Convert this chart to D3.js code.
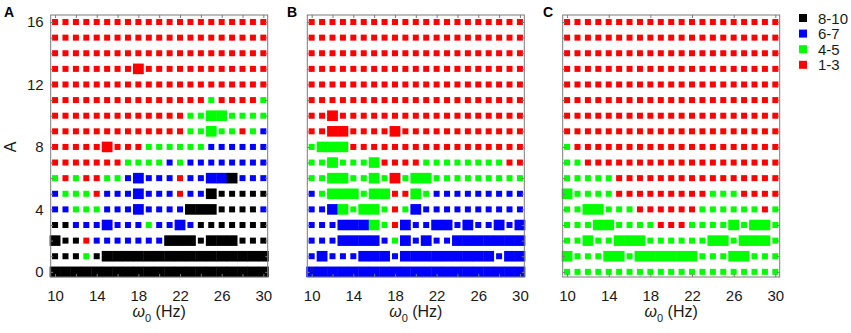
<!DOCTYPE html>
<html><head><meta charset="utf-8">
<script src="https://cdn.jsdelivr.net/npm/d3@7"></script>
<style>
body{margin:0;background:#fff}
svg{display:block}
text{font-family:"Liberation Sans",Arial,Helvetica,sans-serif}
</style>
</head><body><svg id="c" width="851" height="333"></svg>
<script>
// ---- data ----
const xValues = d3.range(10, 31);           // ω0 (Hz)
const yValues = d3.range(0, 17);            // A
const categories = ["8-10", "6-7", "4-5", "1-3"];
const categoryCode = {k: "8-10", b: "6-7", g: "4-5", r: "1-3"};
// One string per A value (0..16), one character per ω0 value (10..30).
// lowercase = ordinary cell, UPPERCASE = emphasised (large) cell.
const panelA = [
  "KKKKKKKKKKKKKKKKKKKKK",
  "kkkgkKKKKKKKKKKKKKKKK",
  "KkkrbbbbbbbKKKkKKKkkk",
  "kkbbbBbbbgbbBbkkkkkkk",
  "bbgggbbbBbbbbKKKkkkkb",
  "bgggrbbbBbbbrbbKkkkkk",
  "grgrrggbBbbbrbbBBKbbb",
  "rrrrrrrggggbgbbbbbbbb",
  "rrrrrRrrrggggggbbbbbb",
  "rrrrrrrrrrrrrggGggrgb",
  "rrrrrrrrrrrrrggGGgggg",
  "rrrrrrrrrrrrrrrgrrrrg",
  "rrrrrrrrrrrrrrrrrrrrr",
  "rrrrrrrrRrrrrrrrrrrrr",
  "rrrrrrrrrrrrrrrrrrrrr",
  "rrrrrrrrrrrrrrrrrrrrr",
  "rrrrrrrrrrrrrrrrrrrrr"
];
const panelB = [
  "BBBBBBBBBBBBBBBBBBBBB",
  "bBbbbBBBbBBBBBBBBBbBB",
  "bbbBBBBbgBbBbbBBBBBBB",
  "bbbBBBGgrBbbBBbBbbBbB",
  "bbBGgGGgrgBbbbbbbbbbb",
  "bgGGGgGGrrGgbbbbbbbbb",
  "ggGGggGgRgGGggggggggg",
  "ggGgggGrrrrggggggggrr",
  "gGGGrrrrrrrrrrrrrrrrr",
  "rrRRrrrrRrrrrrrrrrrrr",
  "rrRrrrrrrrrrrrrrrrrrr",
  "rrrrrrrrrrrrrrrrrrrrr",
  "rrrrrrrrrrrrrrrrrrrrr",
  "rrrrrrrrrrrrrrrrrrrrr",
  "rrrrrrrrrrrrrrrrrrrrr",
  "rrrrrrrrrrrrrrrrrrrrr",
  "rrrrrrrrrrrrrrrrrrrrr"
];
const panelC = [
  "ggggggggggggggggggggg",
  "GgggGGgGGGGGGgggGGggg",
  "ggGggGGGggggggGGgGGGg",
  "gggGGggggrrrggggGgGGg",
  "ggGGgggrrrrrrggggggrg",
  "Gggggrrrrrrrrrgggrrrr",
  "gggggrrrrrrrrrrrrrrrr",
  "ggrrrrrrrrrrrrrrrrrrr",
  "grrrrrrrrrrrrrrrrrrrr",
  "rrrrrrrrrrrrrrrrrrrrr",
  "rrrrrrrrrrrrrrrrrrrrr",
  "rrrrrrrrrrrrrrrrrrrrr",
  "rrrrrrrrrrrrrrrrrrrrr",
  "rrrrrrrrrrrrrrrrrrrrr",
  "rrrrrrrrrrrrrrrrrrrrr",
  "rrrrrrrrrrrrrrrrrrrrr",
  "rrrrrrrrrrrrrrrrrrrrr"
];
const panelLabels = ["A", "B", "C"];
const yTickLabels = [0, 4, 8, 12, 16];
const xTickLabels = [10, 14, 18, 22, 26, 30];

// ---- styles ----
const color = d3.scaleOrdinal().domain(categories).range(["#000000", "#0000ff", "#00ff00", "#ff0000"]);
const svg = d3.select("#c");
const W = 217, TOP = 15, BOTTOM = 277;
const lefts = [50.7, 307.3, 562.7];
const labelX = [4, 287, 543];
const panels = [panelA, panelB, panelC];

panels.forEach((rows, pi) => {
  const left = lefts[pi];
  const x = d3.scaleLinear().domain([9.58, 30.42]).range([left, left + W]);
  const y = d3.scaleLinear().domain([-0.33, 16.45]).range([BOTTOM, TOP]);
  const step = x(11) - x(10);
  const bigH = 10.6, small = 6;
  const cells = [];
  rows.forEach((row, yi) => row.split("").forEach((c, xi) => {
    cells.push({x: xValues[xi], y: yValues[yi], cat: categoryCode[c.toLowerCase()], big: c !== c.toLowerCase()});
  }));
  const g = svg.append("g");
  g.selectAll("rect.cell").data(cells).join("rect")
    .attr("class", "cell")
    .attr("x", d => d.big ? x(d.x) - step / 2 - 0.2 : x(d.x) - small / 2)
    .attr("y", d => d.big ? y(d.y) - bigH / 2 : y(d.y) - small / 2)
    .attr("width", d => d.big ? step + 0.4 : small)
    .attr("height", d => d.big ? bigH : small)
    .attr("fill", d => color(d.cat));

  // axes (ticks point inward)
  const xt = pi === 2 ? d3.range(10, 31, 4) : d3.range(10, 31, 2);
  const bx = g.append("g").attr("transform", `translate(0,${BOTTOM})`)
    .call(d3.axisBottom(x).tickValues(xt).tickSizeInner(-3).tickSizeOuter(0).tickPadding(13)
      .tickFormat(d => xTickLabels.includes(d) ? d : ""));
  const tx = g.append("g").attr("transform", `translate(0,${TOP})`)
    .call(d3.axisTop(x).tickValues(xt).tickSizeInner(-3).tickSizeOuter(0).tickFormat(""));
  const ly = g.append("g").attr("transform", `translate(${left},0)`)
    .call(d3.axisLeft(y).tickValues(yValues).tickSizeInner(-2.5).tickSizeOuter(0).tickPadding(7)
      .tickFormat(d => (pi === 0 && yTickLabels.includes(d)) ? d : ""));
  const ry = g.append("g").attr("transform", `translate(${left + W},0)`)
    .call(d3.axisRight(y).tickValues(yValues).tickSizeInner(-2.5).tickSizeOuter(0).tickFormat(""));
  [bx, tx, ly, ry].forEach(a => {
    a.select(".domain").remove();
    a.selectAll("line").attr("stroke", "#7a7a7a");
    a.selectAll("text").attr("font-size", 15).attr("fill", "#1a1a1a")
      .attr("font-family", '"Liberation Sans", Arial, sans-serif');
  });

  g.append("rect").attr("x", left).attr("y", TOP).attr("width", W).attr("height", BOTTOM - TOP)
    .attr("fill", "none").attr("stroke", "#7a7a7a").attr("stroke-width", 1);

  // x title
  const xt2 = g.append("text").attr("x", left + W / 2).attr("y", 317)
    .attr("text-anchor", "middle").attr("font-size", 16).attr("fill", "#1a1a1a");
  xt2.append("tspan").attr("font-style", "italic").text("ω");
  xt2.append("tspan").attr("font-size", 11).attr("dy", 5).text("0");
  xt2.append("tspan").attr("dy", -5).text(" (Hz)");

  // panel label
  g.append("text").attr("x", labelX[pi]).attr("y", 17).attr("font-size", 14)
    .attr("font-weight", "bold").attr("fill", "#000").text(panelLabels[pi]);
});

// panel B stray "0" glyph
svg.append("text").attr("x", 311.5).attr("y", 271.5).attr("text-anchor", "middle")
  .attr("font-size", 8).attr("fill", "#2a2a5a").text("0");

// y title
svg.append("text").attr("transform", "translate(15.5,147) rotate(-90)")
  .attr("text-anchor", "middle").attr("font-size", 16).attr("fill", "#1a1a1a").text("A");

// legend
const leg = svg.append("g");
categories.forEach((c, i) => {
  const cy = 18 + i * 15.6;
  leg.append("rect").attr("x", 799).attr("y", cy - 4).attr("width", 8).attr("height", 8).attr("fill", color(c));
  leg.append("text").attr("x", 818).attr("y", cy + 5.5).attr("font-size", 15).attr("fill", "#1a1a1a").text(c);
});
</script>
</body></html>
